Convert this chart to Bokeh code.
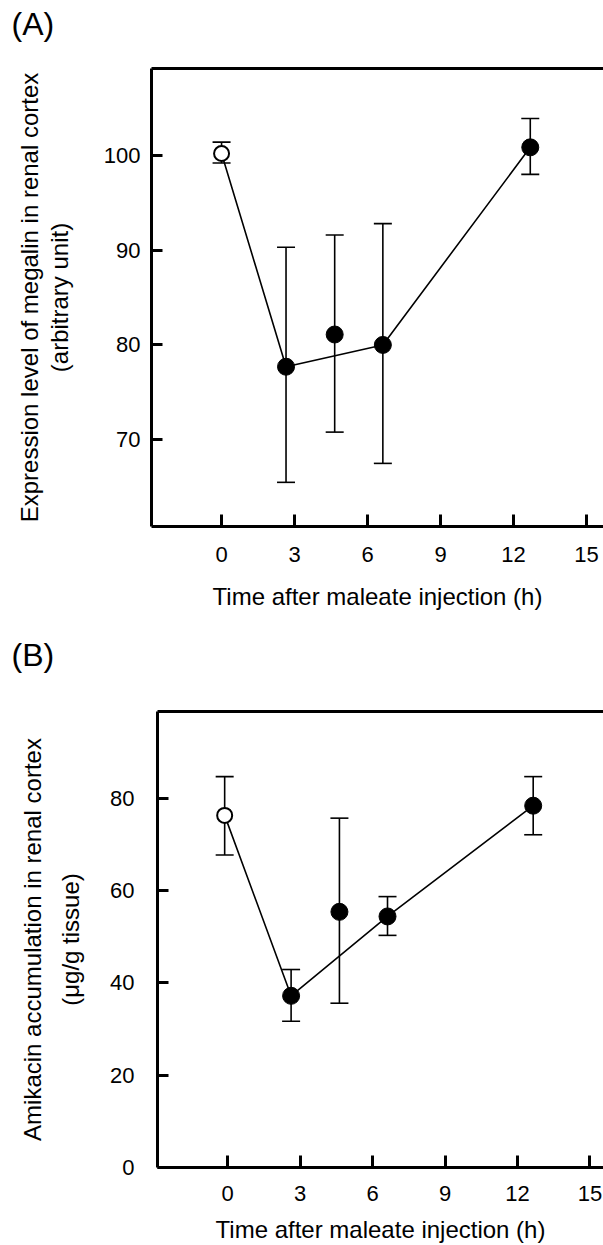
from bokeh.plotting import figure
from bokeh.models import Range1d, LinearAxis, FixedTicker, Whisker, ColumnDataSource, TeeHead, Title
from bokeh.embed import file_html
from bokeh.resources import INLINE

# ---------------- data ----------------
x_ticks = [0, 3, 6, 9, 12, 15]

# Panel A: megalin expression
time_a = [0, 2.65, 4.65, 6.63, 12.69]
megalin = [100.2, 77.7, 81.1, 80.0, 100.85]
megalin_upper = [101.4, 90.3, 91.6, 92.8, 103.9]
megalin_lower = [99.2, 65.5, 70.8, 67.5, 98.0]
y_ticks_a = [70, 80, 90, 100]

# Panel B: amikacin accumulation
time_b = [-0.12, 2.63, 4.63, 6.62, 12.65]
amikacin = [76.3, 37.2, 55.4, 54.4, 78.4]
amikacin_upper = [84.7, 42.9, 75.7, 58.7, 84.7]
amikacin_lower = [67.7, 31.7, 35.6, 50.3, 72.1]
y_ticks_b = [0, 20, 40, 60, 80]

control_idx = [0]           # open circle (control)
treated_idx = [1, 2, 3, 4]  # filled circles
line_idx = [0, 1, 3, 4]     # points joined by the line

FONT = "Liberation Sans"
TICK_FS = "22px"
LAB_FS = "24px"
XLAB = "Time after maleate injection (h)"


def style_label(ax, text, standoff):
    ax.axis_label = text
    ax.axis_label_text_font = FONT
    ax.axis_label_text_font_size = LAB_FS
    ax.axis_label_text_font_style = "normal"
    ax.axis_label_text_color = "black"
    ax.axis_label_standoff = int(standoff)


def make_panel(t, v, up, lo, yticks, xr, yr, height, mb, panel_label, title_offset,
               title_standoff, ylab1, ylab2, ytick_standoff, ylab2_standoff,
               ylab1_standoff, xtick_standoff, xlab_standoff):
    p = figure(width=603, height=height, output_backend="svg", toolbar_location=None,
               x_range=Range1d(*xr), y_range=Range1d(*yr),
               x_axis_type=None, y_axis_type=None,
               min_border_left=mb[0], min_border_right=mb[1],
               min_border_top=mb[2], min_border_bottom=mb[3])
    p.outline_line_color = None
    p.background_fill_color = "white"
    p.border_fill_color = "white"

    # panel letter; the trailing empty line lifts it higher above the frame
    p.title = Title(text=panel_label + "\n", align="left", offset=title_offset,
                    standoff=title_standoff, text_font=FONT, text_font_size="32px",
                    text_line_height=0.74,
                    text_font_style="normal", text_color="black")

    # bottom axis
    xa = LinearAxis(ticker=FixedTicker(ticks=x_ticks))
    xa.axis_line_width = 3
    xa.major_tick_line_width = 3
    xa.major_tick_in = 12
    xa.major_tick_out = 0
    xa.minor_tick_line_color = None
    xa.major_label_text_font = FONT
    xa.major_label_text_font_size = TICK_FS
    xa.major_label_text_color = "black"
    xa.major_label_standoff = xtick_standoff
    style_label(xa, XLAB, xlab_standoff)
    p.add_layout(xa, "below")

    # top border line
    ta = LinearAxis(ticker=FixedTicker(ticks=[]))
    ta.axis_line_width = 3
    ta.major_tick_line_color = None
    ta.minor_tick_line_color = None
    ta.major_tick_out = 0
    ta.major_label_standoff = 0
    p.add_layout(ta, "above")

    # left axis (ticks + second label line)
    ya = LinearAxis(ticker=FixedTicker(ticks=yticks))
    ya.axis_line_width = 3
    ya.major_tick_line_width = 3
    ya.major_tick_in = 11
    ya.major_tick_out = 0
    ya.minor_tick_line_color = None
    ya.major_label_text_font = FONT
    ya.major_label_text_font_size = TICK_FS
    ya.major_label_text_color = "black"
    ya.major_label_standoff = ytick_standoff
    style_label(ya, ylab2, ylab2_standoff)
    p.add_layout(ya, "left")

    # outer left axis carrying the first label line
    ya2 = LinearAxis(ticker=FixedTicker(ticks=[]))
    ya2.axis_line_color = None
    ya2.major_tick_line_color = None
    ya2.minor_tick_line_color = None
    ya2.major_tick_out = 0
    ya2.major_label_standoff = 0
    style_label(ya2, ylab1, ylab1_standoff)
    p.add_layout(ya2, "left")

    p.xgrid.visible = False
    p.ygrid.visible = False

    src = ColumnDataSource(dict(x=t, upper=up, lower=lo))
    w = Whisker(source=src, base="x", upper="upper", lower="lower", dimension="height",
                line_width=1.6, line_color="black", level="underlay",
                upper_head=TeeHead(size=18, line_width=1.6, line_color="black"),
                lower_head=TeeHead(size=18, line_width=1.6, line_color="black"))
    p.add_layout(w)

    p.line([t[i] for i in line_idx], [v[i] for i in line_idx], line_color="black", line_width=1.6)
    p.scatter([t[i] for i in treated_idx], [v[i] for i in treated_idx], marker="circle",
              size=17, fill_color="black", line_color="black", line_width=1)
    p.scatter([t[i] for i in control_idx], [v[i] for i in control_idx], marker="circle",
              size=15, fill_color="white", line_color="black", line_width=2)
    return p


pA = make_panel(time_a, megalin, megalin_upper, megalin_lower, y_ticks_a,
                (-2.88, 15.70), (60.84, 109.17), 620, (151, 0, 68, 94), "(A)", -140, 0,
                "Expression level of megalin in renal cortex", "(arbitrary unit)",
                11, 28, 0, 20, 18)

pB = make_panel(time_b, amikacin, amikacin_upper, amikacin_lower, y_ticks_b,
                (-2.90, 15.56), (0, 98.81), 625, (157, 0, 91, 77), "(B)", -146, 23,
                "Amikacin accumulation in renal cortex", "(\u03bcg/g tissue)",
                23, 23, 9, 18, 12)

# two separate roots so that the frames are not forced into alignment
open("out.html", "w").write(file_html([pA, pB], INLINE))
